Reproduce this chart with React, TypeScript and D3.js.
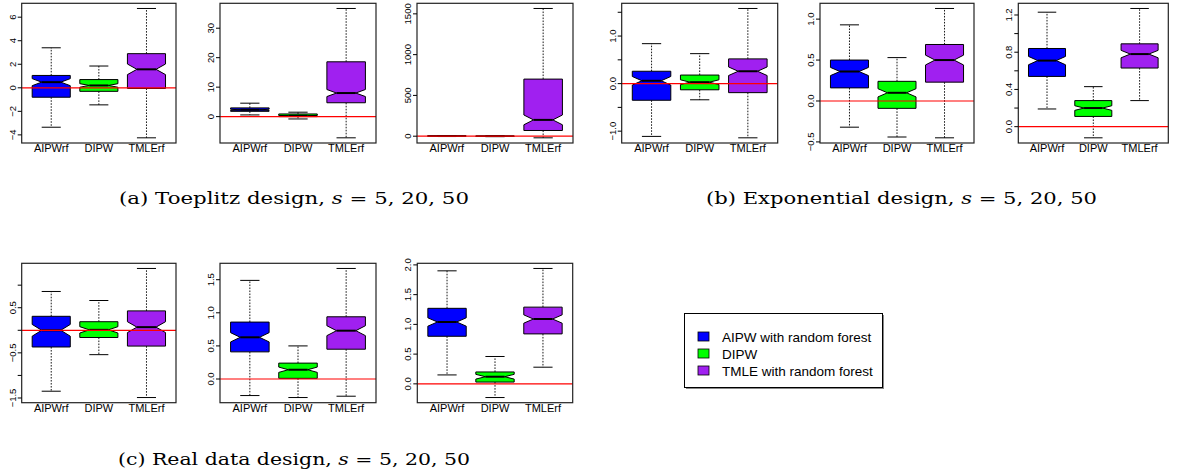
import React from "react";
import * as d3 from "d3";

type Box = { lo: number; q1: number; med: number; q3: number; hi: number; notch: number };

const methods = ["AIPWrf", "DIPW", "TMLErf"];
const legendLabels = ["AIPW with random forest", "DIPW", "TMLE with random forest"];

const toeplitz5: Box[] = [
  { lo: -3.35, q1: -0.8, med: 0.48, q3: 1.05, hi: 3.4, notch: 0.3 },
  { lo: -1.45, q1: -0.3, med: 0.2, q3: 0.7, hi: 1.85, notch: 0.15 },
  { lo: -4.25, q1: -0.05, med: 1.57, q3: 2.9, hi: 6.74, notch: 0.45 },
];
const toeplitz20: Box[] = [
  { lo: 0.57, q1: 1.8, med: 2.3, q3: 2.96, hi: 4.56, notch: 0.2 },
  { lo: -0.8, q1: 0.0, med: 0.3, q3: 0.9, hi: 1.5, notch: 0.1 },
  { lo: -7.2, q1: 4.7, med: 8.0, q3: 18.6, hi: 36.7, notch: 1.2 },
];
const toeplitz50: Box[] = [
  { lo: -3, q1: 0.5, med: 2, q3: 4, hi: 8, notch: 0.5 },
  { lo: -2, q1: -0.5, med: 0.3, q3: 1, hi: 2.5, notch: 0.2 },
  { lo: -20, q1: 70, med: 200, q3: 700, hi: 1566, notch: 60 },
];
const exponential5: Box[] = [
  { lo: -1.11, q1: -0.35, med: 0.06, q3: 0.26, hi: 0.84, notch: 0.09 },
  { lo: -0.34, q1: -0.13, med: 0.03, q3: 0.18, hi: 0.63, notch: 0.05 },
  { lo: -1.14, q1: -0.19, med: 0.26, q3: 0.52, hi: 1.58, notch: 0.09 },
];
const exponential20: Box[] = [
  { lo: -0.32, q1: 0.16, med: 0.36, q3: 0.5, hi: 0.93, notch: 0.05 },
  { lo: -0.44, q1: -0.09, med: 0.1, q3: 0.24, hi: 0.53, notch: 0.05 },
  { lo: -0.45, q1: 0.23, med: 0.5, q3: 0.69, hi: 1.13, notch: 0.06 },
];
const exponential50: Box[] = [
  { lo: 0.19, q1: 0.54, med: 0.71, q3: 0.84, hi: 1.23, notch: 0.045 },
  { lo: -0.12, q1: 0.11, med: 0.2, q3: 0.28, hi: 0.43, notch: 0.025 },
  { lo: 0.28, q1: 0.63, med: 0.78, q3: 0.89, hi: 1.27, notch: 0.04 },
];
const real5: Box[] = [
  { lo: -1.35, q1: -0.37, med: 0.0, q3: 0.31, hi: 0.86, notch: 0.13 },
  { lo: -0.54, q1: -0.16, med: 0.01, q3: 0.19, hi: 0.66, notch: 0.07 },
  { lo: -1.49, q1: -0.35, med: 0.07, q3: 0.43, hi: 1.37, notch: 0.12 },
];
const real20: Box[] = [
  { lo: -0.25, q1: 0.41, med: 0.63, q3: 0.86, hi: 1.49, notch: 0.07 },
  { lo: -0.28, q1: 0.01, med: 0.14, q3: 0.24, hi: 0.5, notch: 0.04 },
  { lo: -0.26, q1: 0.45, med: 0.73, q3: 0.94, hi: 1.67, notch: 0.075 },
];
const real50: Box[] = [
  { lo: 0.15, q1: 0.8, med: 1.04, q3: 1.27, hi: 1.9, notch: 0.07 },
  { lo: -0.23, q1: 0.03, med: 0.12, q3: 0.2, hi: 0.46, notch: 0.04 },
  { lo: 0.28, q1: 0.84, med: 1.09, q3: 1.29, hi: 1.94, notch: 0.07 },
];

const toeplitz5Ticks = [-4, -2, 0, 2, 4, 6];
const toeplitz5Labels = ["\u22124", "\u22122", "0", "2", "4", "6"];
const toeplitz20Ticks = [0, 10, 20, 30];
const toeplitz20Labels = ["0", "10", "20", "30"];
const toeplitz50Ticks = [0, 500, 1000, 1500];
const toeplitz50Labels = ["0", "500", "1000", "1500"];
const exponential5Ticks = [-1, -0.5, 0, 0.5, 1, 1.5];
const exponential5Labels = ["\u22121.0", "", "0.0", "", "1.0", ""];
const exponential20Ticks = [-0.5, 0, 0.5, 1];
const exponential20Labels = ["\u22120.5", "0.0", "0.5", "1.0"];
const exponential50Ticks = [0, 0.2, 0.4, 0.6, 0.8, 1.0, 1.2];
const exponential50Labels = ["0.0", "", "0.4", "", "0.8", "", "1.2"];
const real5Ticks = [-1.5, -1, -0.5, 0, 0.5, 1];
const real5Labels = ["\u22121.5", "", "\u22120.5", "", "0.5", ""];
const real20Ticks = [0, 0.5, 1, 1.5];
const real20Labels = ["0.0", "0.5", "1.0", "1.5"];
const real50Ticks = [0, 0.5, 1, 1.5, 2];
const real50Labels = ["0.0", "0.5", "1.0", "1.5", "2.0"];

const captions = [
  { pre: "(a) Toeplitz design, ", post: " = 5, 20, 50" },
  { pre: "(b) Exponential design, ", post: " = 5, 20, 50" },
  { pre: "(c) Real data design, ", post: " = 5, 20, 50" },
];

// layout (pixels)
const panels = [
  { data: toeplitz5, ticks: toeplitz5Ticks, labels: toeplitz5Labels, x0: 21.7, x1: 176, y0: 3.3, y1: 143 },
  { data: toeplitz20, ticks: toeplitz20Ticks, labels: toeplitz20Labels, x0: 220, x1: 376, y0: 3.3, y1: 143 },
  { data: toeplitz50, ticks: toeplitz50Ticks, labels: toeplitz50Labels, x0: 417, x1: 573, y0: 3.3, y1: 143 },
  { data: exponential5, ticks: exponential5Ticks, labels: exponential5Labels, x0: 621.7, x1: 777.7, y0: 3.3, y1: 143 },
  { data: exponential20, ticks: exponential20Ticks, labels: exponential20Labels, x0: 820, x1: 974, y0: 3.3, y1: 143 },
  { data: exponential50, ticks: exponential50Ticks, labels: exponential50Labels, x0: 1018.3, x1: 1168.3, y0: 3.3, y1: 143 },
  { data: real5, ticks: real5Ticks, labels: real5Labels, x0: 21.7, x1: 176, y0: 263.3, y1: 402.7 },
  { data: real20, ticks: real20Ticks, labels: real20Labels, x0: 220, x1: 376, y0: 263.3, y1: 402.7 },
  { data: real50, ticks: real50Ticks, labels: real50Labels, x0: 417.3, x1: 572.7, y0: 263.3, y1: 402.7 },
];
const captionPos = [
  { x: 119, y: 204, w: 350 },
  { x: 706, y: 204, w: 391 },
  { x: 118, y: 465, w: 352 },
];

const fills = ["#0000FF", "#00FF00", "#A020F0"];
const sans = "'Liberation Sans', Arial, Helvetica, sans-serif";
const serif = "'DejaVu Serif', 'Liberation Serif', serif";

function Panel({ p }: { p: (typeof panels)[number] }) {
  const x = d3.scaleLinear().domain([0.38, 3.62]).range([p.x0, p.x1]);
  const lo = d3.min(p.data, (d) => Math.min(d.lo, d.med - d.notch))!;
  const hi = d3.max(p.data, (d) => Math.max(d.hi, d.med + d.notch))!;
  const r = hi - lo;
  const y = d3.scaleLinear().domain([lo - 0.04 * r, hi + 0.04 * r]).range([p.y1, p.y0]);
  const w = x(1.4) - x(1);
  return (
    <g>
      {p.data.map((d, i) => {
        const cx = x(i + 1);
        const pts: [number, number][] = [
          [cx - w, y(d.q1)],
          [cx + w, y(d.q1)],
          [cx + w, y(d.med - d.notch)],
          [cx + w * 0.5, y(d.med)],
          [cx + w, y(d.med + d.notch)],
          [cx + w, y(d.q3)],
          [cx - w, y(d.q3)],
          [cx - w, y(d.med + d.notch)],
          [cx - w * 0.5, y(d.med)],
          [cx - w, y(d.med - d.notch)],
        ];
        return (
          <g key={i}>
            <line x1={cx} x2={cx} y1={y(d.q1)} y2={y(d.lo)} stroke="#000" strokeWidth={0.9} strokeDasharray="1.6,1.4" />
            <line x1={cx} x2={cx} y1={y(d.q3)} y2={y(d.hi)} stroke="#000" strokeWidth={0.9} strokeDasharray="1.6,1.4" />
            <line x1={cx - w * 0.5} x2={cx + w * 0.5} y1={y(d.lo)} y2={y(d.lo)} stroke="#000" strokeWidth={1} />
            <line x1={cx - w * 0.5} x2={cx + w * 0.5} y1={y(d.hi)} y2={y(d.hi)} stroke="#000" strokeWidth={1} />
            <polygon points={pts.map((q) => q.join(",")).join(" ")} fill={fills[i]} stroke="#000" strokeWidth={1} />
            <line x1={cx - w * 0.5} x2={cx + w * 0.5} y1={y(d.med)} y2={y(d.med)} stroke="#000" strokeWidth={2} />
            <text x={cx} y={p.y1 + 9} fontSize={11} fontFamily={sans} textAnchor="middle" fill="#000">
              {methods[i]}
            </text>
          </g>
        );
      })}
      <line x1={p.x0} x2={p.x1} y1={y(0)} y2={y(0)} stroke="#FF0000" strokeWidth={1.2} />
      <rect x={p.x0} y={p.y0} width={p.x1 - p.x0} height={p.y1 - p.y0} fill="none" stroke="#222" strokeWidth={1.2} />
      {p.ticks.map((t, i) => (
        <g key={t}>
          <line x1={p.x0} x2={p.x0 - 4} y1={y(t)} y2={y(t)} stroke="#000" strokeWidth={1} />
          {p.labels[i] && (
            <text
              transform={`translate(${p.x0 - 6},${y(t)}) rotate(-90)`}
              fontSize={9.5}
              fontFamily={sans}
              textAnchor="middle"
              fill="#000"
            >
              {p.labels[i]}
            </text>
          )}
        </g>
      ))}
    </g>
  );
}

export default function App() {
  const legX = 684.5;
  const legY = 313.5;
  return (
    <svg width={1179} height={476} style={{ position: "absolute", left: 0, top: 0, background: "#fff" }}>
      <rect x={0} y={0} width={1179} height={476} fill="#fff" />
      {panels.map((p, i) => (
        <Panel key={i} p={p} />
      ))}
      {captions.map((c, i) => (
        <text
          key={i}
          x={captionPos[i].x}
          y={captionPos[i].y}
          fontFamily={serif}
          fontSize={17}
          textLength={captionPos[i].w}
          lengthAdjust="spacingAndGlyphs"
          fill="#000"
        >
          {c.pre}
          <tspan fontStyle="italic">s</tspan>
          {c.post}
        </text>
      ))}
      <g>
        <rect x={legX + 1.5} y={legY + 1.5} width={198} height={74} fill="#888" />
        <rect x={legX} y={legY} width={198} height={74} fill="#fff" stroke="#000" strokeWidth={1} />
        {legendLabels.map((l, i) => (
          <g key={l}>
            <rect x={legX + 13.5} y={legY + 18.5 + i * 17} width={11} height={9} fill={fills[i]} stroke="#000" strokeWidth={0.8} />
            <text x={legX + 37.5} y={legY + 28 + i * 17} fontSize={13.5} fontFamily={sans} fill="#000">
              {l}
            </text>
          </g>
        ))}
      </g>
    </svg>
  );
}
